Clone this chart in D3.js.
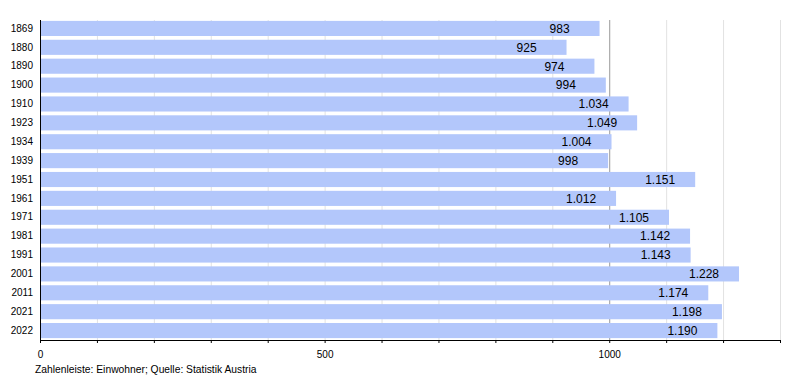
<!DOCTYPE html>
<html><head><meta charset="utf-8">
<script src="https://cdn.jsdelivr.net/npm/d3@7"></script>
<style>body{margin:0;background:#fff}svg{display:block}text{font-family:"Liberation Sans",Arial,sans-serif}</style>
</head><body>
<svg id="c" width="800" height="380"></svg>
<script>
const years = ["1869","1880","1890","1900","1910","1923","1934","1939","1951","1961","1971","1981","1991","2001","2011","2021","2022"];
const population = [983,925,974,994,1034,1049,1004,998,1151,1012,1105,1142,1143,1228,1174,1198,1190];
const tickValues = [0,100,200,300,400,500,600,700,800,900,1000,1100,1200,1300];
const tickLabels = [0,500,1000];
const footer = "Zahlenleiste: Einwohner; Quelle: Statistik Austria";

const svg = d3.select("#c");
const x = d3.scaleLinear().domain([0,1300]).range([40, 780]);
const y = d3.scaleBand().domain(years).range([19, 340]).paddingInner(0.2).paddingOuter(0.1);
const fmt = v => d3.format(",")(v).replace(/,/g, ".");

// gridlines
svg.append("g").selectAll("line").data(tickValues.filter(d=>d>0)).join("line")
  .attr("x1", d=>x(d)+0.5).attr("x2", d=>x(d)+0.5).attr("y1", 20).attr("y2", 340)
  .attr("stroke", d=> d===1000 ? "#999" : "#e2e2e2").attr("stroke-width", 1);

// bars
svg.append("g").selectAll("rect").data(years).join("rect")
  .attr("x", x(0)).attr("y", d=>y(d)).attr("width", (d,i)=>x(population[i])-x(0))
  .attr("height", y.bandwidth()).attr("fill", "#b3c7fb");

// value labels
svg.append("g").selectAll("text").data(years).join("text")
  .attr("x", (d,i)=>x(population[i])-50).attr("y", d=>y(d)+y.bandwidth()/2)
  .attr("dy","0.36em").attr("font-size", 12).attr("fill","#000")
  .text((d,i)=>fmt(population[i]));

// x axis
const xAxis = d3.axisBottom(x).tickValues(tickValues).tickSize(3)
  .tickFormat(d => tickLabels.includes(d) ? d : "");
const gx = svg.append("g").attr("transform","translate(0,340)").call(xAxis);
gx.select(".domain").attr("stroke","#000");
gx.selectAll(".tick line").attr("stroke","#000");
gx.selectAll(".tick text").attr("font-size",10).attr("dy","1.15em").attr("fill","#000")
  .style("font-family",'"Liberation Sans",Arial,sans-serif');

// y axis
const yAxis = d3.axisLeft(y).tickSize(0).tickPadding(7);
const gy = svg.append("g").attr("transform","translate(40,0)").call(yAxis);
gy.select(".domain").attr("stroke","#000").attr("d","M0.5,20V340");
gy.selectAll(".tick text").attr("font-size",10).attr("fill","#000")
  .style("font-family",'"Liberation Sans",Arial,sans-serif');

svg.append("text").attr("x",35).attr("y",373).attr("font-size",10.3).attr("fill","#000").text(footer);
</script>
</body></html>
